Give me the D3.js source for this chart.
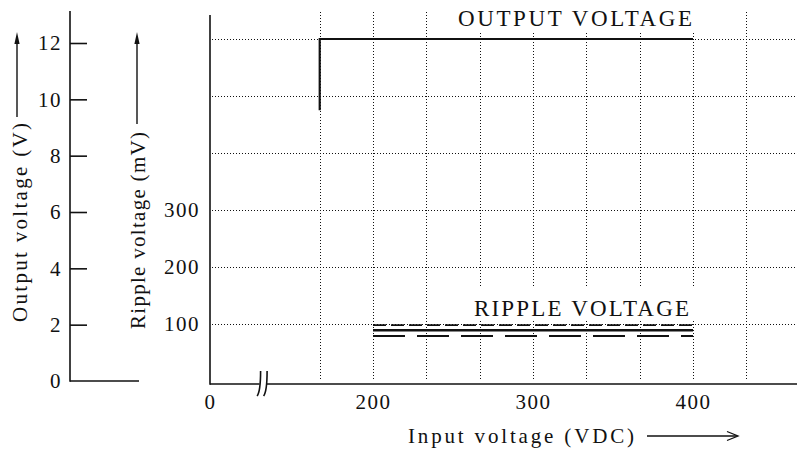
<!DOCTYPE html>
<html>
<head>
<meta charset="utf-8">
<script src="https://cdn.jsdelivr.net/npm/d3@7"></script>
<style>
  html, body { margin: 0; padding: 0; background: #fff; }
  svg { display: block; font-family: "Liberation Serif", "Times New Roman", serif; }
</style>
</head>
<body>
<svg id="chart" width="797" height="452"></svg>
<script>
// ---------- data ----------
const inputTickValues  = [0, 200, 300, 400];          // VDC
const outputTickValues = [0, 2, 4, 6, 8, 10, 12];     // V
const rippleTickValues = [100, 200, 300];             // mV
const gridInputValues  = [166.7, 200, 233.3, 266.7, 300, 333.3, 366.7, 400, 433.3];
const gridOutputValues = [2, 4, 6, 8, 10, 12];

// output voltage vs input voltage
const outputVin  = [166.7, 166.7, 400];
const outputVout = [9.5, 12, 12];

// ripple voltage (mV) vs input voltage, three traces
const rippleVin    = [200, 250, 300, 350, 400];
const rippleUpper  = [98, 98, 98, 98, 98];
const rippleMiddle = [89, 89, 89, 89, 89];
const rippleLower  = [79, 79, 79, 79, 79];

// ---------- layout ----------
const plotLeft = 210, plotRight = 797, plotBottom = 384, plotTop = 15;
const gridTop = 12, gridBottom = 380;
const fontSize = 21;

const svg = d3.select("#chart");

// broken input axis: 0 .. break compressed, then linear
const x = d3.scaleLinear().domain([0, 140, 500]).range([210, 277, 853]);
const yOut = d3.scaleLinear().domain([0, 12]).range([381, 39]);
const yRip = d3.scaleLinear().domain([0, 600]).range([381, 39]);
const yLeft = d3.scaleLinear().domain([0, 12]).range([381, 43]);

// snap 1px dotted lines onto pixel centres so they stay crisp
const crisp = v => Math.round(v) + 0.5;

// ---------- grid ----------
const grid = svg.append("g").attr("stroke", "#111").attr("stroke-width", 1)
  .attr("stroke-dasharray", "1,2");
grid.selectAll("line.v").data(gridInputValues).join("line")
  .attr("class", "v")
  .attr("x1", d => crisp(x(d))).attr("x2", d => crisp(x(d)))
  .attr("y1", gridTop).attr("y2", gridBottom);
grid.selectAll("line.h").data(gridOutputValues).join("line")
  .attr("class", "h")
  .attr("x1", plotLeft + 2).attr("x2", plotRight)
  .attr("y1", d => crisp(yOut(d))).attr("y2", d => crisp(yOut(d)));

// ---------- in-plot labels (white boxes interrupt the grid) ----------
function boxedLabel(txt, x0, baseline, len, box) {
  svg.append("rect").attr("x", box[0]).attr("y", box[1])
    .attr("width", box[2]).attr("height", box[3]).attr("fill", "#fff");
  svg.append("text").attr("x", x0).attr("y", baseline)
    .attr("font-size", 23).attr("fill", "#111")
    .attr("textLength", len).attr("lengthAdjust", "spacing")
    .text(txt);
}
boxedLabel("OUTPUT VOLTAGE", 458, 26, 234, [454, 0, 243, 31]);
boxedLabel("RIPPLE VOLTAGE", 474, 316, 215, [469, 287, 227, 33]);

// ---------- series ----------
const line = d3.line().x(d => x(d[0])).y(d => d[1]);

svg.append("path")
  .attr("d", line(d3.zip(outputVin, outputVout.map(v => yOut(v)))))
  .attr("fill", "none").attr("stroke", "#111").attr("stroke-width", 2.2);

const rippleSeries = [
  { values: rippleUpper,  width: 1.6, dash: "13,5" },
  { values: rippleMiddle, width: 2.4, dash: null },
  { values: rippleLower,  width: 1.9, dash: "32,12" }
];
svg.append("g").selectAll("path").data(rippleSeries).join("path")
  .attr("d", s => line(d3.zip(rippleVin, s.values.map(v => yRip(v)))))
  .attr("fill", "none").attr("stroke", "#111")
  .attr("stroke-width", s => s.width)
  .attr("stroke-dasharray", s => s.dash);

// ---------- main axes ----------
const axisStyle = g => {
  g.selectAll("text").attr("font-size", fontSize).attr("fill", "#111")
    .attr("font-family", "Liberation Serif, serif").attr("letter-spacing", "1.5px");
};

const xAxis = d3.axisBottom(x).tickValues(inputTickValues).tickSize(0).tickPadding(10)
  .tickFormat(d3.format("d"));
const gx = svg.append("g").attr("transform", `translate(0,${plotBottom})`).call(xAxis);
gx.select(".domain").remove();
axisStyle(gx);

svg.append("line").attr("x1", plotLeft).attr("x2", plotRight)
  .attr("y1", plotBottom).attr("y2", plotBottom)
  .attr("stroke", "#111").attr("stroke-width", 1.6);
svg.append("line").attr("x1", plotLeft).attr("x2", plotLeft)
  .attr("y1", plotTop).attr("y2", plotBottom + 0.8)
  .attr("stroke", "#111").attr("stroke-width", 1.6);

// axis break mark
const breakX = x(112);
svg.append("rect").attr("x", breakX - 4).attr("y", plotBottom - 3)
  .attr("width", 7).attr("height", 6).attr("fill", "#fff");
[breakX - 3, breakX + 3.5].forEach(bx => {
  const p = d3.path();
  p.moveTo(bx, 371);
  p.bezierCurveTo(bx, 384, bx - 0.5, 392, bx - 3.5, 396);
  svg.append("path").attr("d", p.toString()).attr("fill", "none")
    .attr("stroke", "#111").attr("stroke-width", 1.6);
});

// ripple axis labels
const rAxis = d3.axisLeft(yRip).tickValues(rippleTickValues).tickSize(0).tickPadding(0);
const gr = svg.append("g").attr("transform", "translate(200,0)").call(rAxis);
gr.select(".domain").remove();
axisStyle(gr);

// ---------- output voltage axis (left panel) ----------
const leftAxis = d3.axisLeft(yLeft).tickValues(outputTickValues).tickSize(-17).tickPadding(8);
const gl = svg.append("g").attr("transform", "translate(70,0)").call(leftAxis);
gl.select(".domain").remove();
gl.selectAll(".tick line").attr("stroke", "#111").attr("stroke-width", 1.6)
  .filter(d => d === 0).remove();
axisStyle(gl);
svg.append("line").attr("x1", 70).attr("x2", 70).attr("y1", 11).attr("y2", yLeft(0) + 0.8)
  .attr("stroke", "#111").attr("stroke-width", 1.6);
svg.append("line").attr("x1", 70).attr("x2", 139).attr("y1", yLeft(0)).attr("y2", yLeft(0))
  .attr("stroke", "#111").attr("stroke-width", 1.6);

// ---------- axis titles ----------
function vTitle(txt, bx, startY, len, arrowX, arrowBottom) {
  svg.append("text").attr("transform", `translate(${bx},${startY}) rotate(-90)`)
    .attr("font-size", fontSize).attr("fill", "#111")
    .attr("textLength", len).attr("lengthAdjust", "spacing").text(txt);
  svg.append("line").attr("x1", arrowX).attr("x2", arrowX)
    .attr("y1", arrowBottom).attr("y2", 40)
    .attr("stroke", "#111").attr("stroke-width", 1.4);
  svg.append("path")
    .attr("d", `M${arrowX},32 L${arrowX - 2.6},44 L${arrowX + 2.6},44 Z`)
    .attr("fill", "#111");
}
vTitle("Output voltage (V)", 27, 322, 199, 17, 117);
vTitle("Ripple voltage (mV)", 145, 329, 197, 137, 124);

svg.append("text").attr("x", 408).attr("y", 443)
  .attr("font-size", fontSize).attr("fill", "#111")
  .attr("textLength", 226).attr("lengthAdjust", "spacing")
  .text("Input voltage (VDC)");
svg.append("line").attr("x1", 647).attr("x2", 737).attr("y1", 436).attr("y2", 436)
  .attr("stroke", "#111").attr("stroke-width", 1.3);
svg.append("path").attr("d", "M727,431.5 L738,436 L727,440.5")
  .attr("fill", "none").attr("stroke", "#111").attr("stroke-width", 1.3);
</script>
</body>
</html>
